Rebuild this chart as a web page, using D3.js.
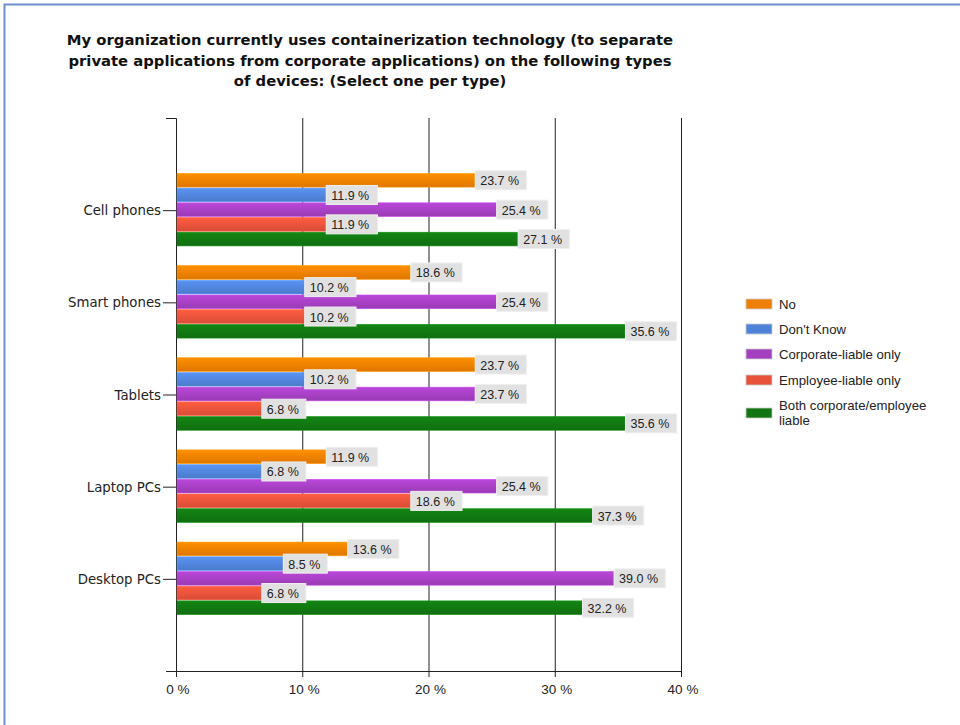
<!DOCTYPE html>
<html><head><meta charset="utf-8">
<script src="https://cdn.jsdelivr.net/npm/d3@7"></script>
<style>body{margin:0;background:#fff}svg{display:block}</style>
</head><body>
<svg id="c" width="960" height="725"></svg>
<script>
const categories = ["Cell phones","Smart phones","Tablets","Laptop PCs","Desktop PCs"];
const seriesNames = ["No","Don't Know","Corporate-liable only","Employee-liable only","Both corporate/employee liable"];
const seriesColors = ["#ef7f00","#4f83d9","#a43fc0","#e8523a","#117611"];
// bar lengths as drawn in the reference (%)
const noVals = [23.7,18.6,23.7,11.9,13.6];
const dontKnowVals = [11.9,10.2,10.2,6.8,8.5];
const corporateVals = [25.4,25.4,23.7,25.4,34.7];
const employeeVals = [11.9,10.2,6.8,18.6,6.8];
const bothVals = [27.1,35.6,35.6,33.0,32.2];
// data labels as printed in the reference
const noLabels = ["23.7 %","18.6 %","23.7 %","11.9 %","13.6 %"];
const dontKnowLabels = ["11.9 %","10.2 %","10.2 %","6.8 %","8.5 %"];
const corporateLabels = ["25.4 %","25.4 %","23.7 %","25.4 %","39.0 %"];
const employeeLabels = ["11.9 %","10.2 %","6.8 %","18.6 %","6.8 %"];
const bothLabels = ["27.1 %","35.6 %","35.6 %","37.3 %","32.2 %"];
const tickVals = [0,10,20,30,40];
const titleLines = ["My organization currently uses containerization technology (to separate","private applications from corporate applications) on the following types","of devices: (Select one per type)"];

const series = [noVals,dontKnowVals,corporateVals,employeeVals,bothVals];
const labels = [noLabels,dontKnowLabels,corporateLabels,employeeLabels,bothLabels];
const svg = d3.select("#c");
const font = "'Liberation Sans', Arial, sans-serif";
const wfont = "'DejaVu Sans', Verdana, sans-serif";

// frame
svg.append("path").attr("d","M4.5,725 L4.5,4.5 L960,4.5").attr("fill","none").attr("stroke","#6b8fc9").attr("stroke-width",2);

// title
svg.append("g").selectAll("text").data(titleLines).join("text")
  .attr("x",370).attr("y",(d,i)=>45+i*20.5).attr("text-anchor","middle")
  .attr("font-family",wfont).attr("font-weight","bold").attr("font-size",14.8).attr("fill","#111")
  .text(d=>d);

const x = d3.scaleLinear().domain([0,40]).range([176,681]);
const y = d3.scalePoint().domain(categories).range([118,671]).padding(1);
const bandH = 73.5;
const yInner = d3.scaleBand().domain(d3.range(5)).range([-bandH/2,bandH/2]).padding(0);

// grid lines
svg.append("g").selectAll("line").data(tickVals.slice(1)).join("line")
  .attr("x1",d=>x(d)+0.5).attr("x2",d=>x(d)+0.5).attr("y1",118).attr("y2",677)
  .attr("stroke","#222").attr("stroke-width",1);

// y axis line and top tick
svg.append("path").attr("d","M166,118.5 H176.5 V671").attr("fill","none").attr("stroke","#222");
// x axis
svg.append("line").attr("x1",166).attr("x2",681).attr("y1",671.5).attr("y2",671.5).attr("stroke","#222");
svg.append("line").attr("x1",176.5).attr("x2",176.5).attr("y1",671).attr("y2",677).attr("stroke","#222");

svg.append("g").selectAll("text").data(tickVals).join("text")
  .attr("x",d=>x(d)+2).attr("y",694).attr("text-anchor","middle")
  .attr("font-family",font).attr("font-size",13.5).attr("fill","#222")
  .text(d=>d+" %");

// category labels & ticks
const cg = svg.append("g").selectAll("g").data(categories).join("g")
  .attr("transform",d=>`translate(0,${y(d)})`);
cg.append("line").attr("x1",163).attr("x2",176).attr("y1",0.5).attr("y2",0.5).attr("stroke","#222");
cg.append("text").attr("x",161).attr("y",5).attr("text-anchor","end")
  .attr("font-family",wfont).attr("font-size",13.3).attr("fill","#222").text(d=>d);

// gradients
const defs = svg.append("defs");
seriesColors.forEach((c,i)=>{
  const g = defs.append("linearGradient").attr("id","g"+i).attr("x1",0).attr("x2",0).attr("y1",0).attr("y2",1);
  g.append("stop").attr("offset","0%").attr("stop-color",d3.color(c).brighter(0.35));
  g.append("stop").attr("offset","100%").attr("stop-color",d3.color(c).darker(0.2));
});

// bars
series.forEach((vals,si)=>{
  svg.append("g").selectAll("rect").data(vals).join("rect")
    .attr("x",x(0)+1).attr("y",(d,i)=>y(categories[i])+yInner(si))
    .attr("width",d=>x(d)-x(0)-1).attr("height",yInner.bandwidth()-1)
    .attr("fill","url(#g"+si+")").attr("stroke",d3.color(seriesColors[si]).brighter(0.6)).attr("stroke-width",0.6);
});
// labels
series.forEach((vals,si)=>{
  const lg = svg.append("g").selectAll("g").data(vals).join("g")
    .attr("transform",(d,i)=>`translate(${x(d)},${y(categories[i])+yInner(si)+yInner.bandwidth()/2})`);
  lg.append("rect").attr("x",0).attr("y",-10).attr("width",(d,i)=>labels[si][i].length*7.2+8).attr("height",19)
    .attr("fill","#e1e1e1").attr("stroke","#efefef");
  lg.append("text").attr("x",5).attr("y",4.5).attr("font-family",font).attr("font-size",12.5).attr("fill","#222")
    .text((d,i)=>labels[si][i]);
});

// legend
const legY = [304,329,354,380,413];
const lgd = svg.append("g").selectAll("g").data(seriesNames).join("g")
  .attr("transform",(d,i)=>`translate(746,${legY[i]})`);
lgd.append("rect").attr("x",0).attr("y",-5).attr("width",26).attr("height",10)
  .attr("fill",(d,i)=>seriesColors[i]).attr("stroke","#ccc").attr("stroke-width",0.8);
lgd.each(function(d,i){
  const t = d3.select(this).append("text").attr("font-family",font).attr("font-size",13.2).attr("fill","#222");
  if(i===4){
    t.append("tspan").attr("x",33).attr("y",-3).text("Both corporate/employee");
    t.append("tspan").attr("x",33).attr("y",12).text("liable");
  } else {
    t.attr("x",33).attr("y",4.5).text(d);
  }
});
</script>
</body></html>
